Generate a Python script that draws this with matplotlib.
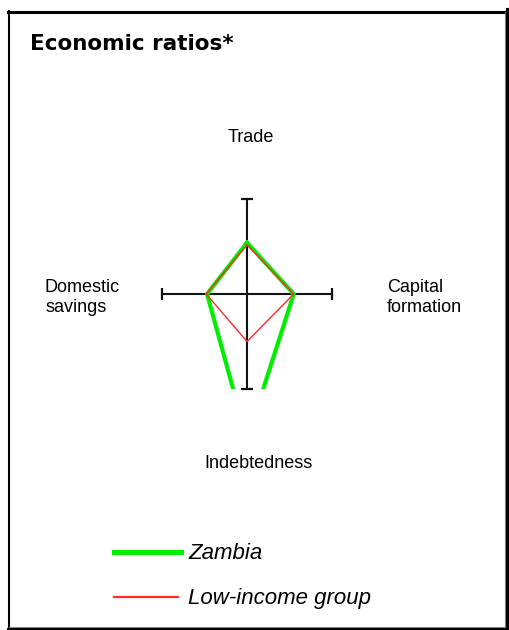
"""
Economic ratios radar (Zambia vs low-income group)
"""

import numpy as np
import matplotlib
matplotlib.use("Agg")
import matplotlib.pyplot as plt
from matplotlib.lines import Line2D

# axis names, clockwise from the top
axis_names = ["Trade", "Capital formation", "Indebtedness", "Domestic savings"]
axis_angles = [90, 0, -90, 180]

series_names = ["Zambia", "Low-income group"]
zambia = [0.54, 0.55, 1.53, 0.47]
low_income = [0.52, 0.55, 0.50, 0.48]
series_values = [zambia, low_income]
series_colors = ["#00ee00", "#ff2a2a"]
series_widths = [3.0, 1.0]

W, H = 510, 630


def fx(x):
    return x / W


def fy(y):
    return 1 - y / H


def to_xy(values):
    ang = np.deg2rad(axis_angles)
    v = np.asarray(values)
    x = v * np.cos(ang)
    y = v * np.sin(ang)
    # close the polygon
    return np.append(x, x[0]), np.append(y, y[0])


fig = plt.figure(figsize=(W / 100, H / 100), dpi=100)
fig.patch.set_facecolor("white")

# Frame around the chart panel (shadow on right and bottom)
fig.add_artist(Line2D([fx(9), fx(9)], [fy(11), fy(629)], color="black", lw=1.5))
fig.add_artist(Line2D([fx(8), fx(508)], [fy(11.5), fy(11.5)], color="black", lw=2.2))
fig.add_artist(Line2D([fx(505), fx(505)], [fy(12), fy(627)], color="#888888", lw=0.8))
fig.add_artist(Line2D([fx(508), fx(508)], [fy(10), fy(630)], color="black", lw=3.0))
fig.add_artist(Line2D([fx(9), fx(505)], [fy(627), fy(627)], color="#888888", lw=0.8))
fig.add_artist(Line2D([fx(8), fx(510)], [fy(629), fy(629)], color="black", lw=2.2))

fig.text(fx(30), fy(50), "Economic ratios*", fontsize=15.5, fontweight="bold",
         family=["DejaVu Sans"], va="baseline", ha="left")

# Radar axes: data range -1..1 on both directions
ax = fig.add_axes([fx(162), fy(389), fx(332) - fx(162), fy(199) - fy(389)])
ax.set_xlim(-1, 1)
ax.set_ylim(-1, 1)
ax.axis("off")

ax.plot([-1, 1], [0, 0], color="#111111", lw=1.5, clip_on=False, zorder=1)
ax.plot([0, 0], [-1, 1], color="#111111", lw=1.5, clip_on=False, zorder=1)
ax.plot([-1, 1], [0, 0], ls="none", marker="|", ms=8.5, mew=1.6,
        color="#111111", clip_on=False)
ax.plot([0, 0], [-1, 1], ls="none", marker="_", ms=8.5, mew=1.6,
        color="#111111", clip_on=False)

for vals, col, lw in zip(series_values, series_colors, series_widths):
    x, y = to_xy(vals)
    ax.plot(x, y, color=col, lw=lw, zorder=3)

lab = dict(fontsize=13, family=["Liberation Sans", "DejaVu Sans"], va="baseline")
fig.text(fx(251), fy(142), axis_names[0], ha="center", **lab)
fig.text(fx(387), fy(292), "Capital", ha="left", **lab)
fig.text(fx(387), fy(312), "formation", ha="left", **lab)
fig.text(fx(259), fy(468), axis_names[2], ha="center", **lab)
fig.text(fx(45), fy(292), "Domestic", ha="left", **lab)
fig.text(fx(45), fy(312), "savings", ha="left", **lab)

# Legend
leg_y = [552, 597]
leg_x2 = [181, 178]
leg_lw = [3.6, 1.6]
for name, col, lw, y, x2 in zip(series_names, series_colors, leg_lw, leg_y, leg_x2):
    fig.add_artist(Line2D([fx(114), fx(x2)], [fy(y), fy(y)], color=col, lw=lw))
    fig.text(fx(188), fy(y + 7), name, fontsize=16, style="italic",
             family=["Liberation Sans", "DejaVu Sans"], va="baseline", ha="left")

fig.savefig("out.png", dpi=100, facecolor="white")
